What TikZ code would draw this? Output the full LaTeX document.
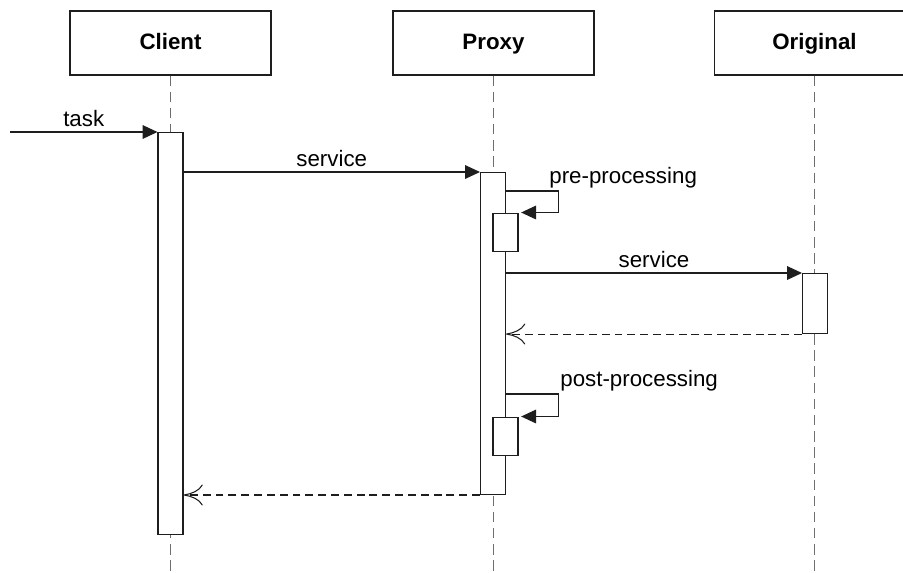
\documentclass[tikz,border=0pt]{standalone}
\usepackage{fontspec}
\setmainfont{Liberation Sans}
\usetikzlibrary{arrows.meta}
\begin{document}
\begin{tikzpicture}[x=0.02cm,y=-0.02cm,font=\fontsize{12.7}{15}\selectfont]
	\definecolor{xam}{RGB}{110,110,110}
	\definecolor{vien}{RGB}{30,30,30}
	\tikzset{
		khung/.style={draw=vien,line width=0.6pt,fill=white,minimum width=4.02cm,minimum height=1.28cm,inner sep=0,text height=0.72em,text depth=0pt,font=\fontsize{12.7}{15}\selectfont\bfseries},
		kichhoat/.style={draw=vien,line width=0.6pt,fill=white,minimum width=0.5cm,inner sep=0,anchor=north},
		duongdoi/.style={draw=xam,line width=0.75pt,dash pattern=on 5.9pt off 3.3pt},
		tinnhan/.style={draw=vien,line width=0.6pt,-{Triangle[length=8.5pt,width=7.8pt]}},
		traloi/.style={draw=vien,line width=0.6pt,dash pattern=on 4.5pt off 2.8pt,-{Computer Modern Rightarrow[length=11pt,width=12pt]}},
		nhan/.style={inner sep=0,anchor=base west}
	}
	\useasboundingbox (0,0) rectangle (903,572);
	
	%Đầu
	\node[khung] (client) at (170.5,43) {Client};
	\node[khung] (proxy) at (493.5,43) {Proxy};
	\node[khung] (original) at (814.5,43) {Original};
	
	%Đường đời
	\foreach \ten in {client,proxy,original}{
		\draw[duongdoi] (\ten.south) -- (\ten.south |- 0,572);
	}
	
	%Kích hoạt
	\node[kichhoat,minimum height=8.04cm] (kc) at (170.5,132) {};
	\node[kichhoat,minimum height=6.44cm] (kp) at (493,172) {};
	\node[kichhoat,minimum height=0.77cm] (kp1) at (505.5,212.5) {};
	\node[kichhoat,minimum height=0.77cm] (kp2) at (505.5,416.5) {};
	\node[kichhoat,minimum height=1.2cm] (ko) at (815,273) {};
	
	%Tin nhắn
	\coordinate (vao) at (10,132);
	\coordinate (truoc) at (0,191);
	\coordinate (sau) at (0,394);
	\draw[tinnhan] (vao) -- node[midway,above,inner sep=2.5pt] {task} (kc.north west);
	\draw[tinnhan] (kc.east |- kp.north west) -- node[midway,above,inner sep=2.5pt] {service} (kp.north west);
	\draw[tinnhan,shorten >=1.5pt] (kp.east |- truoc) -- ++(52.5,0) |- (kp1.north east);
	\node[nhan] (ttruoc) at (549,183) {pre-processing};
	\draw[tinnhan] (kp.east |- ko.north west) -- node[midway,above,inner sep=2.5pt] {service} (ko.north west);
	\draw[traloi] (ko.south west) -- (kp.east |- ko.south west);
	\draw[tinnhan,shorten >=1.5pt] (kp.east |- sau) -- ++(52.5,0) |- (kp2.north east);
	\node[nhan] (tsau) at (560,386.5) {post-processing};
	\draw[traloi] (kp.south west) -- (kc.east |- kp.south west);
\end{tikzpicture}
\end{document}
